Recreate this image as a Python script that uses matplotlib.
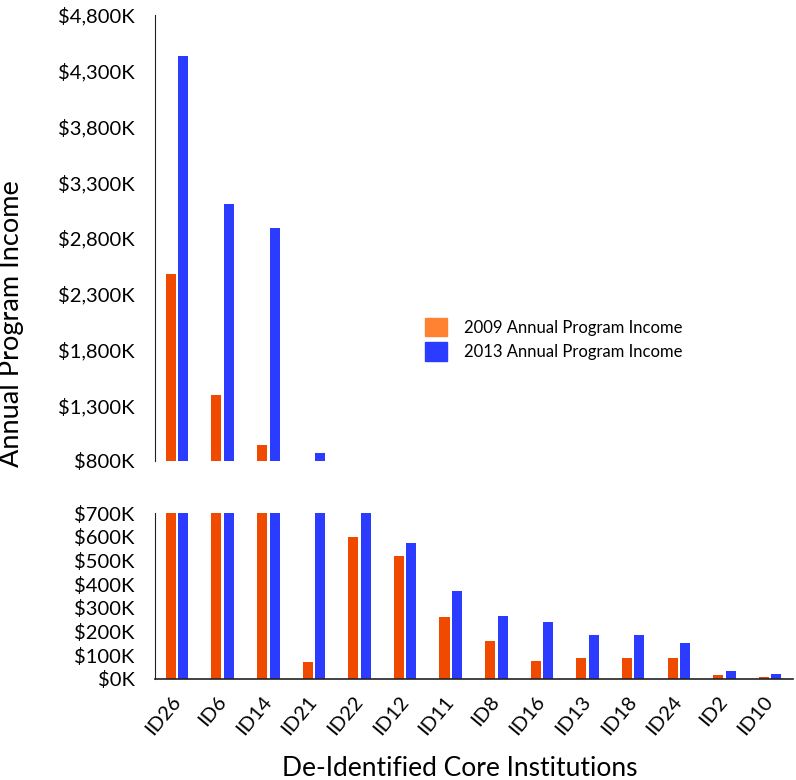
import numpy as np
import matplotlib as mpl
import matplotlib.pyplot as plt
from matplotlib.patches import Patch

mpl.rcParams["font.family"] = ["Lato", "DejaVu Sans"]

# Values in thousands of dollars
institutions = ["ID26", "ID6", "ID14", "ID21", "ID22", "ID12", "ID11",
                "ID8", "ID16", "ID13", "ID18", "ID24", "ID2", "ID10"]
income_2009 = [2480, 1390, 940, 70, 600, 520, 260, 162, 76, 87, 87, 87, 17, 8]
income_2013 = [4430, 3100, 2890, 875, 750, 572, 371, 265, 241, 185, 185, 150, 34, 21]

top_ticks = list(range(800, 4801, 500))
bottom_ticks = list(range(0, 701, 100))

c_2009 = "#F04A00"
c_2009_legend = "#FF8232"
c_2013 = "#2B3BFF"


def money(v):
    return f"${v:,}K"


fig = plt.figure(figsize=(7.96, 7.80), dpi=100)
ax_top = fig.add_axes([0.195, 0.409, 0.801, 0.572])
ax_bot = fig.add_axes([0.195, 0.1295, 0.801, 0.2128])

x = np.arange(len(institutions))
w = 0.22
off = 0.137

for ax in (ax_top, ax_bot):
    ax.bar(x - off, income_2009, width=w, color=c_2009)
    ax.bar(x + off, income_2013, width=w, color=c_2013)
    ax.set_xlim(-0.48, 13.5)
    for s in ("top", "right"):
        ax.spines[s].set_visible(False)
    ax.spines["left"].set_color("#222222")
    ax.tick_params(axis="y", length=0, pad=15, labelsize=14.5)

# top panel
ax_top.set_ylim(800, 4800)
ax_top.set_yticks(top_ticks)
ax_top.set_yticklabels([money(v) for v in top_ticks])
ax_top.spines["bottom"].set_visible(False)
ax_top.set_xticks([])

# bottom panel
ax_bot.set_ylim(0, 700)
ax_bot.set_yticks(bottom_ticks)
ax_bot.set_yticklabels([money(v) for v in bottom_ticks])
ax_bot.spines["bottom"].set_color("#222222")
ax_bot.spines["bottom"].set_linewidth(1.2)
ax_bot.set_xticks(x)
ax_bot.set_xticklabels(institutions, rotation=50, ha="right", va="center",
                       rotation_mode="anchor", fontsize=14.5)
ax_bot.tick_params(axis="x", length=0, pad=14)

fig.text(0.015, 0.585, "Annual Program Income", rotation=90,
         ha="center", va="center", fontsize=19.5)
fig.text(0.578, 0.015, "De-Identified Core Institutions",
         ha="center", va="center", fontsize=19)

handles = [Patch(color=c_2009_legend, label="2009 Annual Program Income"),
           Patch(color=c_2013, label="2013 Annual Program Income")]
fig.legend(handles=handles, loc="upper left", bbox_to_anchor=(0.515, 0.612),
           frameon=False, fontsize=12, handlelength=1.35, handleheight=1.35,
           handletextpad=1.0, labelspacing=0.35)

fig.savefig("out.png", dpi=100)
